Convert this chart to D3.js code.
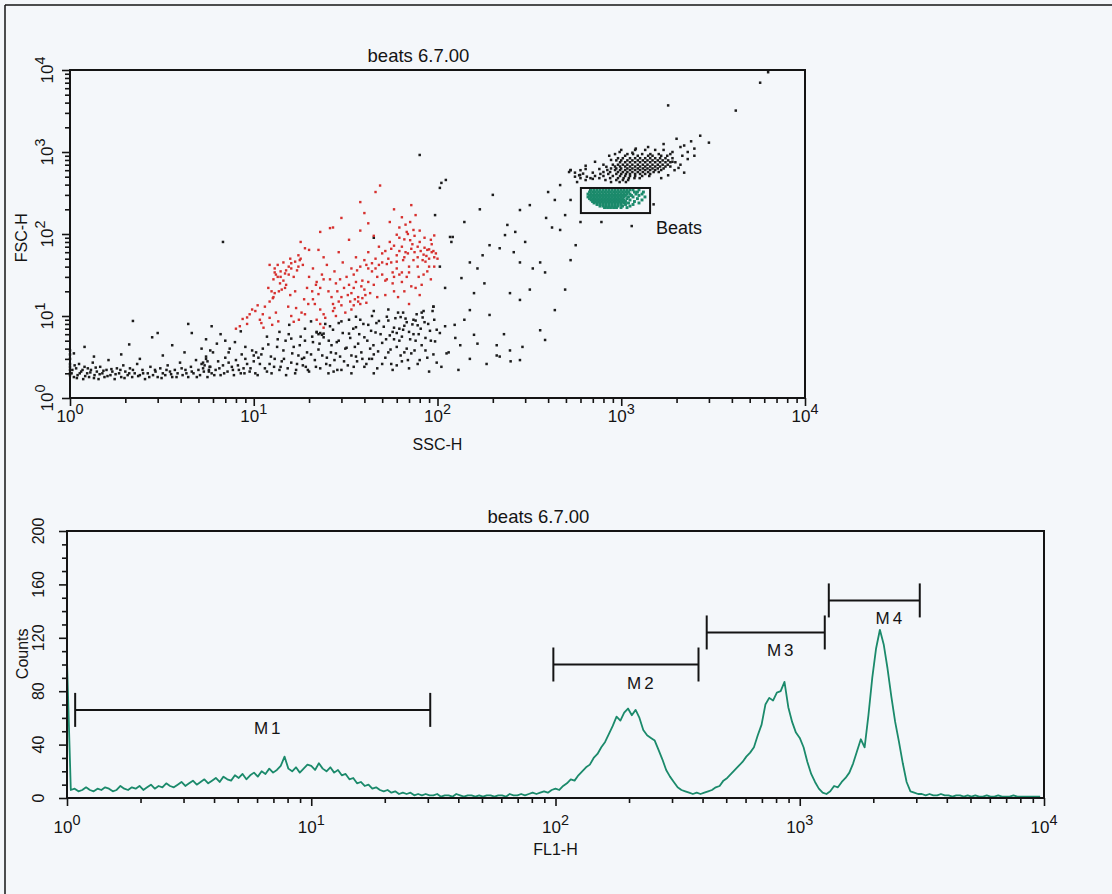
<!DOCTYPE html>
<html><head><meta charset="utf-8">
<script src="https://cdn.jsdelivr.net/npm/d3@7"></script>
<style>
body{margin:0;background:#f4f7fa;}
svg{display:block;font-family:"Liberation Sans",Arial,Helvetica,sans-serif;}
</style></head><body>
<svg id="c" width="1112" height="894"></svg>
<script>
// ---------------- DATA ----------------
const plotTitle = "beats 6.7.00";
const scatterXLabel = "SSC-H";
const scatterYLabel = "FSC-H";
const histXLabel = "FL1-H";
const histYLabel = "Counts";
const logExponents = [0, 1, 2, 3, 4];
const countTicks = [0, 40, 80, 120, 160, 200];

// black events [SSC, FSC]
const blackDots = [
 [1,1.9],[1,2.2],[1,2.6],[1,3.0],[1,3.4],[1,3.8],[1,2.0],[1,2.4],
 [1.02,2.0],[1.05,1.8],[1.08,2.3],[1.1,1.9],[1.12,2.6],[1.15,2.1],[1.18,1.7],[1.2,2.4],[1.24,2.0],[1.27,1.8],[1.3,2.2],[1.33,2.7],[1.36,1.9],[1.4,2.1],[1.43,1.7],[1.46,2.4],[1.5,2.0],[1.54,1.8],[1.58,2.2],[1.62,2.9],[1.66,1.9],[1.7,2.1],[1.75,1.7],[1.8,2.3],[1.85,2.0],[1.9,1.8],[1.95,2.5],[2.0,2.1],[2.06,1.9],[2.12,2.3],[2.18,1.8],[2.25,2.0],[2.32,2.6],[2.4,1.9],[2.48,2.2],[2.56,1.7],[2.65,2.0],[2.74,2.4],[2.83,1.9],[2.92,2.1],[3.0,1.8],[3.1,2.3],[3.2,2.0],[3.3,1.9],[3.4,2.5],[3.5,2.1],[3.6,1.8],[3.72,2.2],[3.85,2.0],[3.97,2.7],[4.1,1.9],[4.25,2.2],[4.4,1.8],[4.55,2.4],[4.7,2.0],[4.85,2.9],[5.0,2.2],[5.1,1.9],[5.2,2.6],[5.35,2.1],[5.5,3.2],[5.6,1.8],[5.75,2.4],[5.9,2.0],[6.0,3.6],[6.2,2.2],[6.4,2.8],[6.6,1.9],[6.8,2.5],[7.0,3.1],[7.2,2.1],[7.4,4.0],[7.6,2.4],[7.8,1.9],[8.0,2.9],[8.3,2.2],[8.6,3.4],[8.9,2.0],[9.2,2.6],
 [1.03,2.2],[1.06,2.5],[1.09,1.75],[1.13,2.0],[1.17,2.2],[1.21,1.85],[1.25,2.3],[1.29,2.05],[1.35,1.75],[1.38,2.35],[1.45,1.95],[1.52,2.15],[1.6,1.85],[1.68,2.25],[1.77,1.95],[1.88,2.2],[1.98,1.75],[2.1,2.0],[2.2,2.2],[2.35,1.85],[2.5,2.0],[2.7,1.8],[2.9,2.2],[3.15,1.75],[3.35,2.2],[3.55,1.95],[3.8,1.8],[4.05,2.3],[4.3,2.0],[4.6,2.1],[4.9,1.8],[5.3,2.3],[5.7,2.1],[6.1,1.9],[6.5,2.3],[6.9,2.0],[7.3,2.7],[7.7,2.2],[8.2,2.5],[8.8,2.3],
 [1.05,3.5],[1.2,4.2],[1.35,3.2],[1.9,3.4],[2.1,4.5],[2.4,3.0],[2.8,5.5],[3.2,3.3],[3.6,4.4],[4.2,3.6],[4.6,6.2],[5.2,4.0],[5.5,5.2],[5.8,3.8],[6.3,4.6],[6.6,6.0],[7.0,5.0],[7.3,3.6],[7.9,4.8],[8.5,6.5],[9.0,4.2],[2.2,8.7],[3.0,6.2],[4.4,8.0],[5.9,7.5],
 [5.4,2.5],[5.6,2.8],[5.8,2.4],[5.5,3.0],[5.7,2.2],[5.3,2.7],[10,3.3],[10.3,3.6],[10.6,3.1],[9.8,3.8],
 [9.5,2.1],[10,2.8],[10.5,1.9],[11,3.4],[11.5,2.3],[12,4.5],[12.5,2.0],[13,3.0],[13.5,5.2],[14,2.4],[14.5,3.8],[15,1.9],[15.5,6.0],[16,2.7],[16.5,4.2],[17,2.2],[17.5,3.3],[18,5.6],[18.5,2.5],[19,7.0],[19.5,3.6],[20,2.1],[21,4.8],[21.5,2.9],[22,6.4],[22.5,3.9],[23,2.3],[24,5.5],[24.5,8.0],[25,3.1],[26,2.5],[26.5,4.4],[27,6.8],[28,3.5],[28.5,2.2],[29,5.0],[30,8.6],[31,2.8],[32,4.1],[33,6.1],[34,3.3],[35,2.4],[36,7.3],[37,4.6],[38,9.0],[39,3.0],[40,5.5],[41,2.6],[42,7.8],[43,4.0],[44,10],[45,3.4],[46,6.3],[47,2.3],[48,8.7],[50,4.7],[52,3.1],[53,9.8],[55,5.8],[56,2.6],[58,7.2],[60,4.2],[61,11],[63,3.3],[65,6.8],[67,9.3],[69,2.9],[71,5.2],[73,7.9],[75,3.8],[77,10.5],[79,6.0],[82,4.4],[85,8.4],[88,3.1],[91,6.6],[94,11.5],[97,4.9],
 [22.5,6.0],[23,6.2],[23.5,5.9],[22,6.3],[24,6.1],[12.2,2.6],[13.8,2.2],[16.8,2.0],[19.2,2.4],[25.5,2.0],[30,2.2],[34,2.0],[40,2.4],[45,2.0],[50,2.6],[57,2.2],[64,2.8],[70,2.3],[80,2.9],[90,2.1],[14.6,3.0],[18.8,3.1],[27.5,2.9],[36,3.2],[44,3.0],[54,3.6],[62,5.0],[68,4.0],[74,6.0],[86,5.4],[95,3.4],[76,8.8],[66,7.6],[58,5.2],
 [8.5,2.0],[9.0,3.0],[9.6,2.3],[10.2,2.0],[10.8,2.6],[11.2,4.0],[11.8,2.1],[12.4,3.2],[12.9,2.4],[13.4,4.2],[14.2,2.8],[14.9,5.0],[15.3,2.3],[16.2,3.5],[17.2,2.6],[17.8,4.4],[18.3,3.0],[19.7,2.2],[20.5,3.4],[20.8,5.6],[21.8,2.4],[22.8,4.6],[23.6,3.3],[24.8,2.6],[25.6,5.0],[26.3,3.6],[27.2,2.1],[28.3,4.8],[29.5,3.2],[30.5,6.2],[31.5,4.0],[32.5,2.5],[33.5,5.4],[34.8,7.0],[35.5,4.2],[36.5,2.8],[37.5,6.0],[38.5,3.6],[39.5,8.0],[41.5,5.0],[42.5,3.0],[43.5,6.6],[44.8,4.4],[46.5,8.2],[47.5,3.7],[49,6.0],[51,7.4],[52.5,5.2],[54,8.8],[55.5,3.9],[57,6.4],[59,9.4],[60,2.5],[62,7.0],[64,5.6],[66,3.6],[68,8.4],[70,6.4],[72,3.5],[74,9.0],[76,5.0],[78,2.6],[81,7.0],[83,9.6],[86,3.8],[89,8.0],[92,5.0],[96,9.0],[99,6.8],[26,7.5],[29,8.2],[33,9.0],[19,5.0],[16,5.3],[13.8,6.4],[11.8,5.6],[15.6,7.8],[20.5,8.6],[36,9.8],[45,11.5],[54,12],[65,11],[84,11.5],
 [105,2.4],[110,7.5],[115,3.6],[125,5.4],[130,2.2],[140,9.0],[150,3.0],[165,4.6],[185,2.6],[210,3.3],[230,6.0],[250,2.8],[290,4.2],[103,6.2],[112,3.5],[99,2.7],[82,11],[78,7.7],[63,9.7],[60,6.2],[95,13],
 [103,365],[111,456],[121,92],[119,80],[165,38],[176,55],[150,45],[192,73],[233,97],[240,129],[281,196],[318,225],[400,325],[435,260],[362,45],[390,157],[265,106],[281,45],[330,38],[218,67],[135,29],[158,19],[180,25],[248,19],[281,15.7],[318,21],[385,34],[150,11.8],[192,10.3],[124,7.8],[158,5.9],[210,4.4],[248,3.8],[281,2.9],[218,3.2],[362,6.7],[385,5.1],[133,4.4],[435,11.8],[495,21],[530,48],[565,73],[465,112],[495,170],[530,260],[597,525],[530,603],[680,344],[465,395],
 [80,920],[105,420],[6.8,80],[45,90],[97,170],[117,92],[103,40],[110,22],[95,13],[140,140],[200,300],[170,200],[260,60],[300,80],[420,120],[600,140],[780,140],[1140,125],[1500,230],
 [560,560],[590,520],[620,545],[650,500],[700,470],[530,600],[600,480],[575,430],
 [560,500],[640,620],[700,560],[2100,700],[2300,820],[2500,900],[1950,600],[2200,560],[800,700],[760,620],[1900,1000],[2100,1150],[1700,1250],[1400,1150],[1200,1100],[860,900],[720,760],[640,680],[600,600],[520,570],[1800,520],[2050,640],[1650,480],[1900,760],[2150,900],[2300,1000],[1150,980],[980,1000],[880,800],[830,660],
 [1000,1060],[1190,1060],[1350,1060],[1530,1060],[1700,1060],
 [925,943],[1080,943],[1160,943],[1300,943],[1440,943],[1600,943],[1850,943],
 [1050,900],[1230,900],[1400,900],[1480,900],[1650,900],[1780,900],
 [960,840],[1020,840],[1116,840],[1190,840],[1266,840],[1350,840],[1437,840],[1530,840],[1627,840],[1740,840],[1900,840],
 [940,790],[1000,790],[1080,790],[1150,790],[1230,790],[1310,790],[1390,790],[1480,790],[1580,790],[1680,790],[1800,790],
 [985,750],[1050,750],[1116,750],[1190,750],[1266,750],[1350,750],[1437,750],[1530,750],[1627,750],[1740,750],[1850,750],[1970,750],
 [900,700],[960,700],[1020,700],[1080,700],[1150,700],[1230,700],[1310,700],[1390,700],[1480,700],[1580,700],[1680,700],[1790,700],
 [925,665],[985,665],[1050,665],[1116,665],[1190,665],[1266,665],[1350,665],[1437,665],[1530,665],[1627,665],[1740,665],[1850,665],
 [880,630],[940,630],[1000,630],[1080,630],[1150,630],[1230,630],[1310,630],[1390,630],[1480,630],[1580,630],[1700,630],
 [840,603],[925,603],[985,603],[1050,603],[1116,603],[1190,603],[1266,603],[1350,603],[1437,603],[1530,603],[1650,603],
 [800,570],[870,570],[960,570],[1020,570],[1080,570],[1150,570],[1230,570],[1310,570],[1400,570],[1500,570],[1600,570],
 [770,540],[850,540],[940,540],[1000,540],[1060,540],[1116,540],[1190,540],[1266,540],[1350,540],[1437,540],
 [720,510],[800,510],[900,510],[985,510],[1050,510],[1116,510],[1190,510],[1300,510],[1420,510],
 [680,480],[760,480],[870,480],[960,480],[1030,480],[1100,480],[1180,480],[1260,480],
 [640,455],[820,455],[940,455],[1020,455],[1090,455],[880,430],[980,430],[1060,430],
 [2690,1580],[2400,1350],[2200,1200],[1800,3700],[4200,3200],[5700,7000],[6300,9400],[2000,1450],[2500,1100],[3000,1300]
];

// red gated events [SSC, FSC]
const redDots = [
 [48.7,390],[46,325],[38,245],[26,118],[27,120],[30,157],[23,106],[22.5,64],[19,67],[17.5,55],[17.8,48],[15.5,40],[15.8,50],[16,44],
 [13,38],[13.5,30],[14,35],[14.5,27],[13.9,25],[13.2,32],[12.8,28],[14.8,33],[12.2,42],
 [12.5,20],[12.8,17],[12.2,15],[12.7,16.5],
 [8.4,7.5],[8.7,9.2],[9.2,8.0],[9.5,10.5],[10.2,11.5],[10.8,9.0],[11.3,7.2],[8.0,7.0],[9.8,12.0],[11.0,8.2],
 [12.2,9.5],[12.6,7.8],[13.2,11],[13.6,8.6],
 [16,10],[16.5,8.5],[17,12.5],[17.6,9],[18.2,11],[15.4,13],
 [21,16],[21.5,14],[22.5,18.5],[22,9],[24,10.5],[24.5,9.5],[23,8],[24,7.2],
 [27,11.5],[28,10],[27.5,12.5],[30,13.5],[31.5,11],[29,15],[30,17],
 [33,24],[34,19],[36,26],[37,17],[38.5,23],[39,27],[40,21],[40.5,18],[41,14.5],[38,14],[35,13.5],[34,12],[33.5,15],[35.5,16],[37,15],[39,16.5],
 [50,45],[53,43],[56,45],[57,34],[60,38],[53,28],[52,27],[57,25],[50,32],[62,32],[64,34],[58,30],
 [67,130],[69,100],[71,140],[73,75],[78,70],[85,68],[88,64],[90,65],[95,62],[98,58],[83,48],[86,46],[74,48],[79,30],[72,23],[82,24],[68,30],[67,60],[70,40],
 [72,225],[68,106],[74,112],[71,84],
 [11.5,13],[12,22],[13,19],[14.2,21],[15,24],[16.5,30],[17.2,36],[18.5,42],[20,30],[21,38],[19.5,22],[22,26],[23.5,32],[25,42],[26,28],[27.5,35],[28.5,20],[30.5,45],[32,30],[34,38],[36,52],[42,60],[44,35],[46,50],[48,70],[45,95],[55,80],[60,55],[62,90],[65,48],[75,95],[80,110],[92,85],[96,40],[55,140],[64,160],[40,180],[58,200],[76,170],[85,90],[93,75],[100,50],[45,24],[47,30],[43,19],[41,42],[66,20],[76,22],[88,35],[92,28],[61,17],[70,14],[80,18],
 [13.5,42],[14.5,45],[13,34],[14,30],[15,36],[15.5,32],[16,38],[16.8,46],[17.5,40],[18,50],[14.8,22],[13.7,20],[15.8,18],[16.8,20],[18.8,16],[19.8,14],[20.8,20],[21.8,24],[23,22],[24,28],[25.5,20],[26.5,17],[28,25],[29.5,28],[31,22],[32.5,18],[35,32],[36.5,36],[38,40],[40,48],[42,38],[44,44],[46,38],[48,42],[50,58],[52,62],[54,50],[56,66],[58,72],[60,46],[62,62],[64,70],[66,52],[69,58],[72,66],[75,60],[78,52],[81,62],[84,56],[87,54],[90,50],[93,60],[96,52],[78,40],[84,32],[90,40],[70,34],[64,26],[58,20],[52,18],[47,17],[42,26],[35,22],[27,14],[23,12],[19,10.5],[10.5,13.5],[11.2,10.5],[9.2,9.6],[20,64],[24,52],[29,60],[18,80],[33,85],[38,110],[42,135],[62,120],[60,98],[66,86],[80,80],[96,96]
];

// green "Beats" gate events: rows of [FSC, SSC list]
const greenRows = [
 [345,[685,711,738,766,796,826,858,891,925,960,997,1035,1075,1116,1159,1249]],
 [325,[672,698,724,752,781,811,842,874,908,942,978,1016,1055,1095,1180,1225,1320]],
 [307,[659,685,711,738,766,796,826,858,891,925,960,997,1035,1075,1116,1203,1297]],
 [295,[672,698,724,752,781,811,842,874,908,942,978,1016,1055,1137,1249]],
 [283,[659,685,711,738,766,796,826,858,891,925,960,997,1035,1095,1159,1346]],
 [270,[672,698,724,752,781,811,842,874,908,942,978,1016,1075,1225]],
 [260,[685,711,738,766,796,826,858,891,925,960,997,1035,1116,1297]],
 [249,[698,724,752,781,811,842,874,908,942,978,1016,1055,1180]],
 [239,[711,738,766,796,826,858,891,925,960,997,1035,1095,1249]],
 [229,[738,766,796,826,858,891,925,960,997,1055,1159]],
 [219,[766,796,826,858,891,925,960,1016,1116]],
 [210,[811,842,874,908,942,997,1075]]
];
const gateName = "Beats";
const gateSSC = [603, 1435];
const gateFSC = [180, 364];

// FL1-H histogram, 256 channels over 4 decades
const histCounts = [
 103,6,7,5,6,8,6,5,7,6,8,7,5,6,9,7,
 6,8,7,9,6,8,10,7,9,8,11,9,8,10,12,9,
 11,13,10,12,14,11,13,15,12,16,14,13,17,15,18,14,
 17,19,16,20,18,22,19,21,24,31,22,20,23,19,22,25,
 24,21,26,22,20,23,19,21,17,18,14,15,11,12,9,10,
 7,8,6,5,6,4,5,3,4,3,4,2,3,2,3,2,
 2,3,1,2,2,1,3,2,1,2,2,1,2,1,2,2,
 1,2,2,1,3,2,2,3,2,3,4,3,4,5,4,6,
 7,6,9,11,14,13,17,20,23,25,30,33,38,42,48,54,
 61,58,64,67,62,66,60,51,47,45,43,36,29,21,16,12,
 8,6,5,4,3,4,3,4,5,6,8,9,13,15,18,21,
 24,27,31,34,38,47,55,70,75,73,79,80,87,68,57,49,
 45,38,27,18,12,7,4,3,5,9,8,12,15,19,26,35,
 44,38,62,90,112,126,115,97,76,57,42,26,12,5,4,3,
 3,2,3,2,2,3,2,2,1,2,2,1,2,1,2,1,
 1,2,1,1,2,1,1,1,2,1,1,1,1,1,1,1
];
const channelsPerDecade = 64;

const markerNames = ["M1", "M2", "M3", "M4"];
const markerStart = [1.08, 98, 416, 1315];
const markerEnd = [30.7, 385, 1266, 3100];
const markerLevel = [66, 100, 124, 148];

// ---------------- DRAWING ----------------
const svg = d3.select("#c");
const ink = "#141414";
const greenInk = "#1b8a6b";
const redInk = "#d6302e";

svg.append("line").attr("x1",5).attr("x2",1112).attr("y1",5).attr("y2",5).attr("stroke",ink).attr("stroke-width",1.5);
svg.append("line").attr("x1",5).attr("x2",5).attr("y1",5).attr("y2",894).attr("stroke",ink).attr("stroke-width",1.5);

const isMajor = d => Math.abs(Math.log10(d) - Math.round(Math.log10(d))) < 1e-9;

function powLabel(g, x, y, exp, rotate, size) {
  const t = g.append("text").attr("text-anchor","middle").attr("fill",ink).attr("font-size",size)
    .attr("transform", rotate ? `translate(${x},${y}) rotate(-90)` : `translate(${x},${y})`);
  t.append("tspan").text("10");
  t.append("tspan").attr("dy",-8).attr("font-size",size*0.85).text(exp);
}

// ===== Scatter plot =====
const sp = {l:70, r:805, t:70, b:398};
const xS = d3.scaleLog().domain([1,1e4]).range([sp.l, sp.r]);
const yS = d3.scaleLog().domain([1,1e4]).range([sp.b, sp.t]);
const gS = svg.append("g");

function dots(data, color, size) {
  gS.append("g").selectAll("rect").data(data).join("rect")
    .attr("x", d => xS(d[0]) - size/2).attr("y", d => yS(d[1]) - size/2)
    .attr("width", size).attr("height", size).attr("fill", color);
}
dots(blackDots, "#1c1c1c", 2.5);
dots(redDots, redInk, 2.4);
const greenDots = greenRows.flatMap(([f, list]) => list.map(s => [s, f]));
dots(greenDots, greenInk, 2.9);

gS.append("rect").attr("x", xS(gateSSC[0])).attr("y", yS(gateFSC[1]))
  .attr("width", xS(gateSSC[1]) - xS(gateSSC[0])).attr("height", yS(gateFSC[0]) - yS(gateFSC[1]))
  .attr("fill","none").attr("stroke",ink).attr("stroke-width",2);
gS.append("text").attr("x", xS(gateSSC[1]) + 6).attr("y", yS(gateFSC[0]) + 21)
  .attr("font-size",18).attr("fill",ink).text(gateName);

gS.append("rect").attr("x",sp.l).attr("y",sp.t).attr("width",sp.r-sp.l).attr("height",sp.b-sp.t)
  .attr("fill","none").attr("stroke",ink).attr("stroke-width",2);

const gxS = gS.append("g").attr("transform",`translate(0,${sp.b})`)
  .call(d3.axisBottom(xS).tickValues(xS.ticks()).tickFormat(() => "").tickSizeOuter(0));
gxS.select(".domain").remove();
gxS.selectAll(".tick line").attr("y2", d => isMajor(d) ? 8 : 5).attr("stroke",ink).attr("stroke-width",1.6);
const gyS = gS.append("g").attr("transform",`translate(${sp.l},0)`)
  .call(d3.axisLeft(yS).tickValues(yS.ticks()).tickFormat(() => "").tickSizeOuter(0));
gyS.select(".domain").remove();
gyS.selectAll(".tick line").attr("x2", d => isMajor(d) ? -8 : -5).attr("stroke",ink).attr("stroke-width",1.6);

logExponents.forEach(e => {
  powLabel(gS, xS(10**e), sp.b + 24, e, false, 17);
  powLabel(gS, sp.l - 17, yS(10**e), e, true, 17);
});
gS.append("text").attr("x", (sp.l+sp.r)/2).attr("y", sp.b + 52).attr("text-anchor","middle")
  .attr("font-size",16).attr("fill",ink).text(scatterXLabel);
gS.append("text").attr("transform",`translate(27,${yS(90)}) rotate(-90)`).attr("text-anchor","middle")
  .attr("font-size",16).attr("fill",ink).text(scatterYLabel);
gS.append("text").attr("x", (sp.l+sp.r)/2 - 19).attr("y", sp.t - 8).attr("text-anchor","middle")
  .attr("font-size",18.5).attr("fill",ink).text(plotTitle);

// ===== Histogram =====
const hp = {l:67, r:1044, t:531, b:798};
const xH = d3.scaleLog().domain([1,1e4]).range([hp.l, hp.r]);
const yH = d3.scaleLinear().domain([0,200]).range([hp.b, hp.t]);
const gH = svg.append("g");

gH.append("path").datum(histCounts)
  .attr("d", d3.line().x((d,i) => xH(10 ** (i / channelsPerDecade))).y(d => yH(d)))
  .attr("fill","none").attr("stroke",greenInk).attr("stroke-width",1.8).attr("stroke-linejoin","round");

gH.append("rect").attr("x",hp.l).attr("y",hp.t).attr("width",hp.r-hp.l).attr("height",hp.b-hp.t)
  .attr("fill","none").attr("stroke",ink).attr("stroke-width",2);

const gxH = gH.append("g").attr("transform",`translate(0,${hp.b})`)
  .call(d3.axisBottom(xH).tickValues(xH.ticks()).tickFormat(() => "").tickSizeOuter(0));
gxH.select(".domain").remove();
gxH.selectAll(".tick line").attr("y2", d => isMajor(d) ? 8 : 5).attr("stroke",ink).attr("stroke-width",1.6);
const gyH = gH.append("g").attr("transform",`translate(${hp.l},0)`)
  .call(d3.axisLeft(yH).tickValues(d3.range(0, 201, 10)).tickFormat(() => "").tickSizeOuter(0));
gyH.select(".domain").remove();
gyH.selectAll(".tick line").attr("x2", d => d % 40 === 0 ? -8 : -5).attr("stroke",ink).attr("stroke-width",1.6);

logExponents.forEach(e => powLabel(gH, xH(10**e), hp.b + 35, e, false, 17));
countTicks.forEach(c => gH.append("text").attr("transform",`translate(${hp.l-23},${yH(c)}) rotate(-90)`)
  .attr("text-anchor","middle").attr("font-size",16).attr("fill",ink).text(c));
gH.append("text").attr("x", xH(100)).attr("y", hp.b + 57).attr("text-anchor","middle")
  .attr("font-size",16).attr("fill",ink).text(histXLabel);
gH.append("text").attr("transform",`translate(28,${yH(108)}) rotate(-90)`).attr("text-anchor","middle")
  .attr("font-size",16).attr("fill",ink).text(histYLabel);
gH.append("text").attr("x", (hp.l+hp.r)/2 - 17).attr("y", hp.t - 8).attr("text-anchor","middle")
  .attr("font-size",18.5).attr("fill",ink).text(plotTitle);

markerNames.forEach((name, i) => {
  const x1 = xH(markerStart[i]), x2 = xH(markerEnd[i]), y = yH(markerLevel[i]);
  const m = gH.append("g").attr("stroke",ink).attr("stroke-width",2);
  m.append("line").attr("x1",x1).attr("x2",x2).attr("y1",y).attr("y2",y);
  m.append("line").attr("x1",x1).attr("x2",x1).attr("y1",y-17).attr("y2",y+17);
  m.append("line").attr("x1",x2).attr("x2",x2).attr("y1",y-17).attr("y2",y+17);
  gH.append("text").attr("x", (x1+x2)/2 + 16).attr("y", y + 24).attr("text-anchor","middle")
    .attr("font-size",17).attr("letter-spacing",3).attr("fill",ink).text(name);
});
</script>
</body></html>
